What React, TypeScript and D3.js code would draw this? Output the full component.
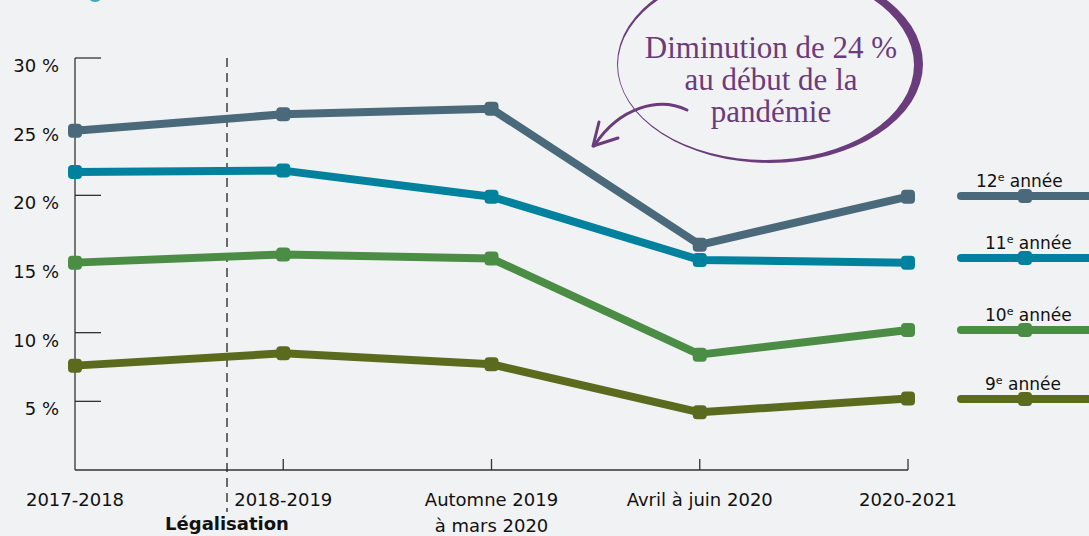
import React from "react";
import * as d3 from "d3";

const categories = ["2017-2018", "2018-2019", "Automne 2019|à mars 2020", "Avril à juin 2020", "2020-2021"];
const yTicks = [5, 10, 15, 20, 25, 30];
const grade12 = [24.7, 25.9, 26.3, 16.4, 19.9];
const grade11 = [21.7, 21.8, 19.9, 15.3, 15.1];
const grade10 = [15.1, 15.7, 15.4, 8.4, 10.2];
const grade9 = [7.6, 8.5, 7.7, 4.2, 5.2];
const seriesNames = ["12", "11", "10", "9"];
const seriesColors = ["#4a6a7b", "#00829f", "#4b8d45", "#5b6b1e"];
const annotationLines = ["Diminution de 24 %", "au début de la", "pandémie"];

const W = 1089;
const H = 536;
const FONT = "DejaVu Sans";

export default function App() {
  const x = d3.scalePoint<string>().domain(categories).range([75, 908]);
  const y = d3.scaleLinear().domain([0, 30]).range([470, 58]);
  const allSeries = [grade12, grade11, grade10, grade9];
  const line = d3
    .line<number>()
    .x((_, i) => x(categories[i]) as number)
    .y((d) => y(d));

  const legendY = [196, 258, 330, 399];
  const legendLabelX = [976, 985, 985, 985];
  const purple = "#6a3c7c";

  const ellipsePath = (cx: number, cy: number, rx: number, ry: number) =>
    `M${cx - rx},${cy} A${rx},${ry} 0 1 0 ${cx + rx},${cy} A${rx},${ry} 0 1 0 ${cx - rx},${cy} Z`;

  return (
    <svg width={W} height={H} style={{ position: "absolute", left: 0, top: 0, display: "block" }}>
      <rect x={0} y={0} width={W} height={H} fill="#f1f2f4" />
      {/* cut-off element at top */}
      <circle cx={95} cy={-6} r={8} fill="#3fa6c4" />

      {/* y axis */}
      <line x1={75} x2={75} y1={y(30)} y2={y(0)} stroke="#333" strokeWidth={1.3} />
      {yTicks.map((t) => (
        <g key={t}>
          <line x1={75} x2={101} y1={y(t)} y2={y(t)} stroke="#333" strokeWidth={1.3} />
          <text x={59} y={y(t) + 14} textAnchor="end" fontFamily={FONT} fontSize={18} fill="#111">
            {t} %
          </text>
        </g>
      ))}
      {/* x axis */}
      <line x1={75} x2={908} y1={y(0)} y2={y(0)} stroke="#333" strokeWidth={1.3} />
      {categories.map((c, i) => {
        const cx = x(c) as number;
        const parts = c.split("|");
        return (
          <g key={c}>
            {i > 0 && <line x1={cx} x2={cx} y1={y(0)} y2={y(0) - 11} stroke="#333" strokeWidth={1.3} />}
            {parts.map((p, j) => (
              <text key={j} x={cx} y={506 + j * 26} textAnchor="middle" fontFamily={FONT} fontSize={18} fill="#111">
                {p}
              </text>
            ))}
          </g>
        );
      })}

      {/* legalisation dashed line */}
      <line x1={227} x2={227} y1={58} y2={512} stroke="#222" strokeWidth={1.3} strokeDasharray="9,6" />
      <text x={227} y={530} textAnchor="middle" fontFamily={FONT} fontSize={18} fontWeight="bold" fill="#111">
        Légalisation
      </text>

      {/* series */}
      {allSeries.map((s, k) => (
        <g key={k}>
          <path d={line(s) || ""} fill="none" stroke={seriesColors[k]} strokeWidth={8} strokeLinejoin="round" />
          {s.map((v, i) => (
            <rect
              key={i}
              x={(x(categories[i]) as number) - 7}
              y={y(v) - 7}
              width={14}
              height={14}
              rx={4}
              fill={seriesColors[k]}
            />
          ))}
        </g>
      ))}

      {/* legend */}
      {seriesNames.map((n, k) => (
        <g key={n}>
          <line x1={961} x2={1093} y1={legendY[k]} y2={legendY[k]} stroke={seriesColors[k]} strokeWidth={8} strokeLinecap="round" />
          <rect x={1018} y={legendY[k] - 7} width={14} height={14} rx={4} fill={seriesColors[k]} />
          <text x={legendLabelX[k]} y={legendY[k] - 9} fontFamily={FONT} fontSize={17} fill="#111">
            {n}
            <tspan fontSize={11} dy={-6}>e</tspan>
            <tspan dy={6}> année</tspan>
          </text>
        </g>
      ))}

      {/* annotation ellipse */}
      <path
        d={ellipsePath(770, 64, 153, 99) + " " + ellipsePath(766, 65, 148, 95)}
        fill={purple}
        fillRule="evenodd"
      />
      {annotationLines.map((t, i) => (
        <text key={i} x={771} y={58 + i * 32} textAnchor="middle" fontFamily="Liberation Serif" fontSize={31} fill={purple}>
          {t}
        </text>
      ))}
      <path d="M687,110 C660,97 620,106 594,146" fill="none" stroke={purple} strokeWidth={3} strokeLinecap="round" />
      <path d="M599,122 L593,146 L618,138" fill="none" stroke={purple} strokeWidth={3} strokeLinecap="round" strokeLinejoin="round" />
    </svg>
  );
}
